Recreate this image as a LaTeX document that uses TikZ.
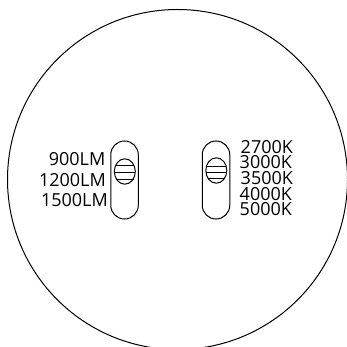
\documentclass[tikz,border=0pt]{standalone}
\usepackage{fontspec}
\setmainfont{Open Sans}
\tikzset{
 outline/.style={draw=black,line width=1pt,fill=none},
 bar/.style={draw=black,line width=1pt},
 lab/.style={inner sep=0pt,font=\fontsize{18}{18}\selectfont},
}
\begin{document}
\begin{tikzpicture}[x=1pt,y=-1pt]
\useasboundingbox (0,0) rectangle (347,347);
\begin{scope}
\clip (0,0) rectangle (347,347);
\draw[outline] (177.5,179.5) circle [radius=170];
\end{scope}
\node[outline,rounded corners=13.7pt,minimum width=27.5pt,minimum height=78pt,inner sep=0pt] (s1) at (124.5,180) {};
\node[outline,rounded corners=13.7pt,minimum width=27.5pt,minimum height=78pt,inner sep=0pt] (s2) at (216,180) {};
\draw[outline] (124.8,171.5) ellipse [x radius=10.5,y radius=12.7];
\draw[outline] (216.3,170.5) ellipse [x radius=10.5,y radius=12.7];
\draw[bar] (115.5,166)--(134.1,166) (114.4,172.5)--(135.2,172.5) (116,179)--(133.6,179);
\draw[bar] (207,166.5)--(225.6,166.5) (205.9,172.5)--(226.7,172.5) (207.5,178)--(225.1,178);
\node[lab,anchor=east] (a) at (105.5,159.5) {900LM};
\node[lab,anchor=east] (b) at (106,180.5) {1200LM};
\node[lab,anchor=east] (c) at (108,200.5) {1500LM};
\node[lab,anchor=west] (d) at (240.5,147.5) {2700K};
\node[lab,anchor=west] (e) at (239.5,162) {3000K};
\node[lab,anchor=west] (f) at (240.5,178) {3500K};
\node[lab,anchor=west] (g) at (239.5,194) {4000K};
\node[lab,anchor=west] (h) at (239.5,209) {5000K};
\end{tikzpicture}
\end{document}
